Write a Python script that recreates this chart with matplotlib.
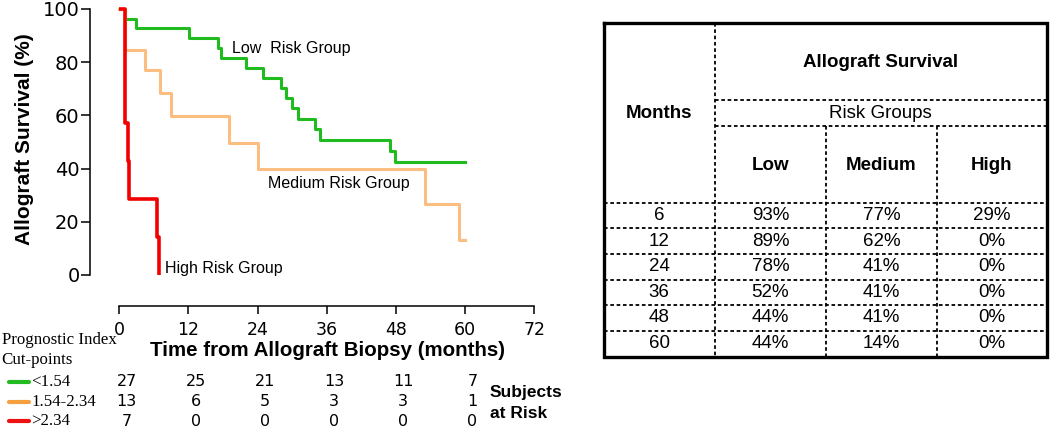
import matplotlib
matplotlib.use("Agg")
import matplotlib.pyplot as plt
from matplotlib.transforms import blended_transform_factory

# ---------------- data ----------------
low_t = [0, 1.0, 2.9, 12.1, 17.05, 17.6, 22.0, 25.0, 28.0, 28.9, 29.9, 31.0, 34.0, 34.9, 46.9, 47.9, 60.0]
low_s = [100, 96.4, 92.7, 89.0, 85.2, 81.5, 77.7, 73.9, 70.2, 66.4, 62.7, 58.6, 54.9, 50.8, 46.6, 42.4, 42.4]

med_t = [0, 1.0, 4.5, 7.0, 9.0, 19.1, 24.0, 53.0, 59.0, 60.0]
med_s = [100, 84.6, 77.1, 68.5, 59.8, 49.7, 39.8, 26.7, 13.2, 13.2]

high_t = [0, 1.0, 1.45, 1.75, 6.6, 6.85]
high_s = [100, 57.1, 42.9, 28.6, 14.3, 0]

curve_labels = ["Low  Risk Group", "Medium Risk Group", "High Risk Group"]

x_ticks = [0, 12, 24, 36, 48, 60, 72]
y_ticks = [0, 20, 40, 60, 80, 100]

risk_months = [0, 12, 24, 36, 48, 60]
risk_low = [27, 25, 21, 13, 11, 7]
risk_med = [13, 6, 5, 3, 3, 1]
risk_high = [7, 0, 0, 0, 0, 0]
cut_labels = ["<1.54", "1.54-2.34", ">2.34"]

tab_months = [6, 12, 24, 36, 48, 60]
tab_low = [93, 89, 78, 52, 44, 44]
tab_med = [77, 62, 41, 41, 41, 14]
tab_high = [29, 0, 0, 0, 0, 0]
tab_groups = ["Low", "Medium", "High"]

GREEN = "#1fbb1f"
ORANGE = "#fbbd80"
RED = "#f00000"
LEG_COLORS = ["#22bb22", "#f5a040", "#ee1111"]

W, H = 1050, 428
fig = plt.figure(figsize=(W / 100, H / 100), dpi=100)
SANS = ["Liberation Sans", "DejaVu Sans"]

# ---------------- survival plot ----------------
x0, x1 = 119.3, 534.3
y0, y1 = 275.0, 9.0
ax = fig.add_axes([x0 / W, (H - y0) / H, (x1 - x0) / W, (y0 - y1) / H])
ax.set_xlim(0, 72)
ax.set_ylim(0, 100)
ax.patch.set_alpha(0)

ax.step(low_t, low_s, where="post", color=GREEN, lw=2.2, clip_on=False, zorder=3)
ax.step(med_t, med_s, where="post", color=ORANGE, lw=2.2, clip_on=False, zorder=3)
ax.step(high_t, high_s, where="post", color=RED, lw=2.6, clip_on=False, zorder=4, solid_capstyle="butt")

for sp in ["top", "right"]:
    ax.spines[sp].set_visible(False)
ax.spines["left"].set_position(("outward", 29.3 * 0.72))
ax.spines["bottom"].set_position(("outward", 31 * 0.72))
ax.spines["left"].set_bounds(0, 100)
ax.spines["bottom"].set_bounds(0, 72)
for sp in ["left", "bottom"]:
    ax.spines[sp].set_linewidth(1.1)

ax.set_xticks(x_ticks)
ax.set_yticks(y_ticks)
ax.tick_params(axis="y", direction="out", length=6.5, width=1.1, pad=1.0,
               labelsize=14)
ax.tick_params(axis="x", direction="out", length=5.5, width=1.1, pad=5.0,
               labelsize=12.5)
for lab in ax.get_xticklabels() + ax.get_yticklabels():
    lab.set_fontfamily("DejaVu Sans")

ax.text(19.5, 85.2, curve_labels[0], fontsize=11.5, family=SANS, va="center", ha="left")
ax.text(25.8, 34.5, curve_labels[1], fontsize=11.5, family=SANS, va="center", ha="left")
ax.text(7.9, 2.5, curve_labels[2], fontsize=11.5, family=SANS, va="center", ha="left")

fig.text(25 / W, 1 - 139 / H, "Allograft Survival (%)", rotation=90, ha="center",
         va="center", fontsize=15, fontweight="bold", family=SANS)
fig.text(327 / W, 1 - 351 / H, "Time from Allograft Biopsy (months)", ha="center",
         va="center", fontsize=14.8, fontweight="bold", family=SANS)

# ---------------- overlay (pixel coordinates) ----------------
ov = fig.add_axes([0, 0, 1, 1])
ov.set_xlim(0, W)
ov.set_ylim(H, 0)
ov.axis("off")
ov.patch.set_alpha(0)

SERIF = ["Liberation Serif", "DejaVu Serif"]
ov.text(1.5, 340, "Prognostic Index", fontsize=12.2, family=SERIF, va="center", ha="left")
ov.text(1.5, 360.5, "Cut-points", fontsize=12.2, family=SERIF, va="center", ha="left")

row_y = [381.5, 401.5, 421.0]
blend = blended_transform_factory(ax.transData, ov.transData)
for ry, lab, col, counts in zip(row_y, cut_labels, LEG_COLORS,
                                [risk_low, risk_med, risk_high]):
    ov.plot([9, 29], [ry, ry], color=col, lw=3.0, solid_capstyle="round")
    ov.text(31.5, ry, lab, fontsize=12.2, family=SERIF, va="center", ha="left")
    for m, c in zip(risk_months, counts):
        ax.text(m + 1.27, ry, str(c), transform=blend, ha="center", va="center",
                fontsize=11.5, family="DejaVu Sans", clip_on=False)

ov.text(490, 393, "Subjects", fontsize=12.5, fontweight="bold", family=SANS, va="center", ha="left")
ov.text(490, 413, "at Risk", fontsize=12.5, fontweight="bold", family=SANS, va="center", ha="left")

# ---------------- table ----------------
tl, tr, tt, tb = 603.5, 1046.5, 23.0, 356.5
cols = [tl, 715.0, 826.0, 937.0, tr]
h_title = 100.0
h_groups = 126.0
h_head = 202.5
n_rows = len(tab_months)
row_h = (tb - h_head) / n_rows

dash_kw = dict(color="black", lw=1.3, linestyle=(0, (2.0, 1.5)))
ov.plot([cols[1], tr], [h_title, h_title], **dash_kw)
ov.plot([cols[1], tr], [h_groups, h_groups], **dash_kw)
for i in range(n_rows):
    yy = h_head + i * row_h
    ov.plot([tl, tr], [yy, yy], **dash_kw)
ov.plot([cols[1], cols[1]], [tt, tb], **dash_kw)
for c in cols[2:4]:
    ov.plot([c, c], [h_groups, tb], **dash_kw)

ov.plot([tl, tr, tr, tl, tl], [tt, tt, tb, tb, tt], color="black", lw=2.4,
        solid_joinstyle="miter")

TFS = 13.5
ov.text((cols[1] + tr) / 2, (tt + h_title) / 2 + 1, "Allograft Survival", fontsize=TFS,
        fontweight="bold", family=SANS, ha="center", va="center")
ov.text((tl + cols[1]) / 2, 113.3, "Months", fontsize=TFS, fontweight="bold",
        family=SANS, ha="center", va="center")
ov.text((cols[1] + tr) / 2, (h_title + h_groups) / 2, "Risk Groups", fontsize=TFS,
        family=SANS, ha="center", va="center")
for j, g in enumerate(tab_groups):
    ov.text((cols[j + 1] + cols[j + 2]) / 2, (h_groups + h_head) / 2 + 1, g, fontsize=TFS,
            fontweight="bold", family=SANS, ha="center", va="center")

for i in range(n_rows):
    yc = h_head + (i + 0.5) * row_h
    vals = [str(tab_months[i]), f"{tab_low[i]}%", f"{tab_med[i]}%", f"{tab_high[i]}%"]
    for j, v in enumerate(vals):
        ov.text((cols[j] + cols[j + 1]) / 2, yc, v, fontsize=TFS, family=SANS,
                ha="center", va="center")

fig.savefig("out.png", dpi=100)
